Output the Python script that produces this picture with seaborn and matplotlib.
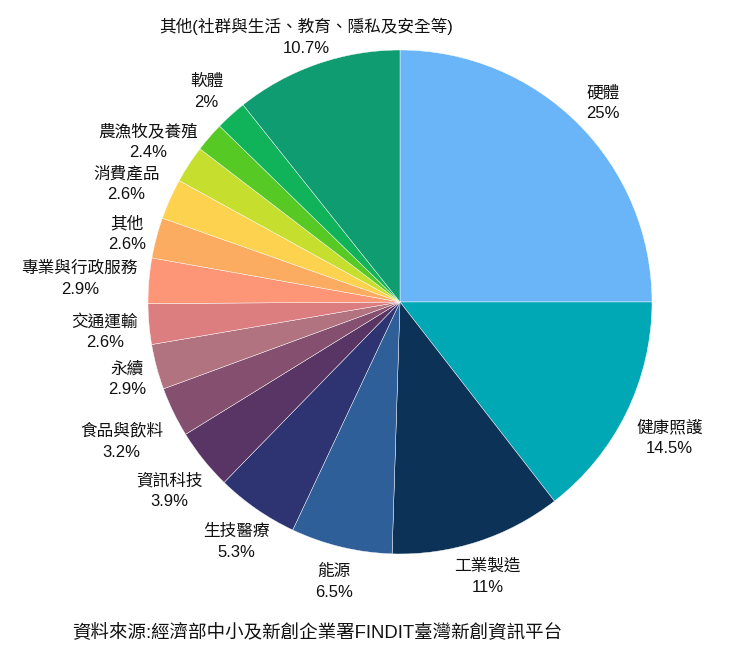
import matplotlib
matplotlib.use("Agg")
import numpy as np
import matplotlib.pyplot as plt
import seaborn as sns

categories = ["硬體", "健康照護", "工業製造", "能源", "生技醫療", "資訊科技",
              "食品與飲料", "永續", "交通運輸", "專業與行政服務", "其他",
              "消費產品", "農漁牧及養殖", "", "軟體",
              "其他(社群與生活、教育、隱私及安全等)"]
values = [25, 14.5, 11, 6.5, 5.3, 3.9, 3.2, 2.9, 2.6, 2.9, 2.6, 2.6, 2.4, 1.9, 2, 10.7]
pct_labels = ["25%", "14.5%", "11%", "6.5%", "5.3%", "3.9%", "3.2%", "2.9%", "2.6%",
              "2.9%", "2.6%", "2.6%", "2.4%", "", "2%", "10.7%"]
colors = ["#6ab4f8", "#00a8b5", "#0c3357", "#2f5f98", "#2e3471", "#583565",
          "#85506f", "#b0737f", "#dc7d7f", "#fd9577", "#fbac60", "#fdd24e",
          "#c6df2e", "#56c925", "#10b25a", "#0e9c70"]
source = "資料來源:經濟部中小及新創企業署FINDIT臺灣新創資訊平台"

sns.set_theme(style="white")
plt.rcParams["font.family"] = ["Liberation Sans", "Noto Sans CJK TC", "DejaVu Sans"]

W, H = 730, 649
fig = plt.figure(figsize=(W / 100, H / 100), dpi=100)
ax = fig.add_axes([0, 0, 1, 1])

labels = [f"{c}\n{p}" if c else "" for c, p in zip(categories, pct_labels)]
wedges, texts = ax.pie(values, labels=labels, colors=colors, startangle=90,
                       counterclock=False, labeldistance=1.1,
                       wedgeprops=dict(edgecolor="white", linewidth=0.3),
                       textprops=dict(fontsize=12, color="#111111"))

cx, cy, r = 400, 302, 252
ax.set_xlim(-cx / r, (W - cx) / r)
ax.set_ylim(-(H - cy) / r, cy / r)
ax.set_aspect("auto")
ax.axis("off")

for t in texts:
    t.set_ha("center")
    t.set_va("center")
    t.set_linespacing(1.5)

fig.text(317 / W, 1 - 632 / H, source, ha="center", va="center", fontsize=13.3,
         color="#111111")

# slide each label box outward along its wedge's mid angle until it clears
# a circle slightly larger than the pie
fig.canvas.draw()
renderer = fig.canvas.get_renderer()
R0 = 262 / r
dy = -4 / r
for w_, t in zip(wedges, texts):
    if not t.get_text():
        continue
    mid = np.deg2rad((w_.theta1 + w_.theta2) / 2)
    c, s = np.cos(mid), np.sin(mid)
    bb = t.get_window_extent(renderer)
    hw, hh = (bb.width + 2) / 2 / r, (bb.height + 6) / 2 / r
    cands = []
    if abs(c) > 1e-6:
        cands.append(hw / abs(c))
    if abs(s) > 1e-6:
        cands.append(hh / abs(s))
    tt = min(cands)
    t.set_position(((R0 + tt) * c, (R0 + tt) * s + dy))

fig.savefig("out.png", dpi=100)
